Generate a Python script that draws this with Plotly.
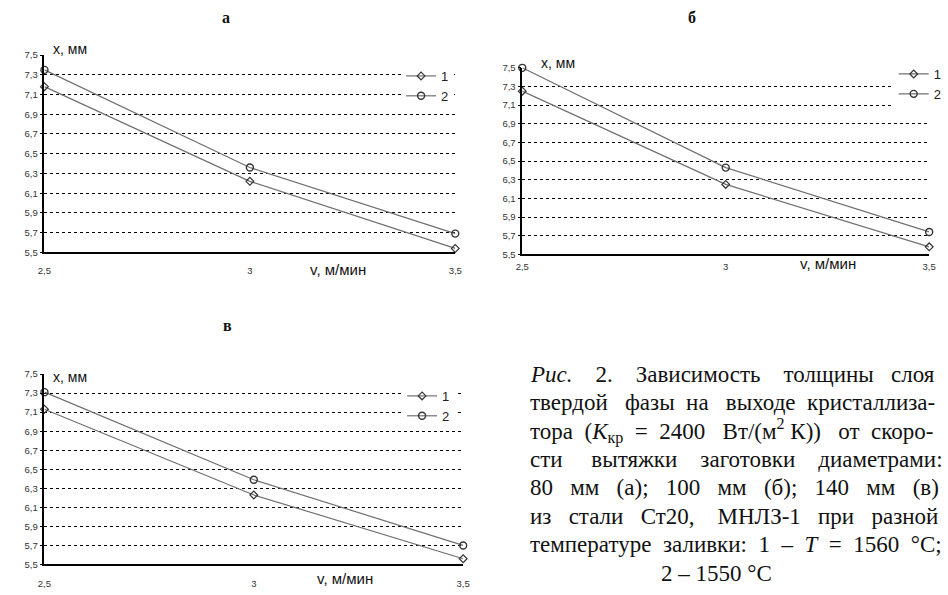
import plotly.graph_objects as go

# ---- data ----
v = [2.5, 3.0, 3.5]
a_T1560 = [7.18, 6.22, 5.54]
a_T1550 = [7.35, 6.36, 5.69]
b_T1560 = [7.25, 6.25, 5.58]
b_T1550 = [7.50, 6.43, 5.74]
c_T1560 = [7.13, 6.23, 5.56]
c_T1550 = [7.31, 6.39, 5.70]
series_names = ["1", "2"]
panel_labels = ["а", "б", "в"]
y_tick_vals = [5.5, 5.7, 5.9, 6.1, 6.3, 6.5, 6.7, 6.9, 7.1, 7.3, 7.5]
y_tick_text = ["5,5", "5,7", "5,9", "6,1", "6,3", "6,5", "6,7", "6,9", "7,1", "7,3", "7,5"]
grid_vals = [5.7, 5.9, 6.1, 6.3, 6.5, 6.7, 6.9, 7.1, 7.3]
x_tick_vals = [2.5, 3.0, 3.5]
x_tick_text = ["2,5", "3", "3,5"]
y_title = "x, мм"
x_title = "v, м/мин"
caption_words = [
    ["<i>Рис.</i>", "2.", "Зависимость", "толщины", "слоя"],
    ["твердой", "фазы", "на", "выходе", "кристаллиза-"],
    ["тора", "(<i>K</i><sub>кр</sub>", "=", "2400", "Вт/(м<sup>2</sup>", "К))", "от", "скоро-"],
    ["сти", "вытяжки", "заготовки", "диаметрами:"],
    ["80", "мм", "(а);", "100", "мм", "(б);", "140", "мм", "(в)"],
    ["из", "стали", "Ст20,", "МНЛЗ-1", "при", "разной"],
    ["температуре", "заливки:", "1", "–", "<i>T</i>", "=", "1560", "°C;"],
]
caption_last = "2 – 1550 °C"

# extra non-breaking spaces per word gap (to imitate justified text)
caption_extra = [
    [3, 3, 3, 2],
    [2, 1, 2, 1],
    [1, 1, 1, 2, 0, 2, 1],
    [4, 3, 3],
    [2, 2, 2, 2, 2, 2, 2, 2],
    [2, 2, 3, 2, 2],
    [1, 1, 1, 1, 1, 1, 1],
]

W, H = 948, 595
def px(x):
    return x / W
def py(y):
    return 1 - y / H

fig = go.Figure()

panels = [
    dict(s1=a_T1560, s2=a_T1550, xa="x", ya="y", lg="legend"),
    dict(s1=b_T1560, s2=b_T1550, xa="x2", ya="y2", lg="legend2"),
    dict(s1=c_T1560, s2=c_T1550, xa="x3", ya="y3", lg="legend3"),
]
line_col = "#707070"
for p in panels:
    fig.add_trace(go.Scatter(
        x=v, y=p["s1"], name=series_names[0], mode="lines+markers",
        line=dict(color=line_col, width=1.2),
        marker=dict(symbol="diamond-open", size=6, color="#333", line=dict(width=1.2)),
        xaxis=p["xa"], yaxis=p["ya"], legend=p["lg"], cliponaxis=False))
    fig.add_trace(go.Scatter(
        x=v, y=p["s2"], name=series_names[1], mode="lines+markers",
        line=dict(color=line_col, width=1.2),
        marker=dict(symbol="circle-open", size=7, color="#333", line=dict(width=1.4)),
        xaxis=p["xa"], yaxis=p["ya"], legend=p["lg"], cliponaxis=False))

tick_font = dict(family="Liberation Sans", size=9.5, color="#333")

def xaxis(domain, standoff):
    return dict(domain=domain, range=[2.5, 3.5], tickvals=x_tick_vals, ticktext=x_tick_text,
                showline=True, linecolor="black", linewidth=1.5, showgrid=False, zeroline=False,
                ticks="", tickfont=tick_font, ticklabelstandoff=standoff, fixedrange=True)

def yaxis(domain, anchor):
    return dict(domain=domain, range=[5.5, 7.5], tickvals=y_tick_vals, ticktext=y_tick_text,
                showline=True, linecolor="black", linewidth=1.5, showgrid=False, zeroline=False,
                ticks="outside", ticklen=3, tickcolor="black", tickfont=tick_font,
                minor=dict(tickvals=grid_vals, showgrid=True, gridcolor="black", gridwidth=1,
                           griddash="3px,3px", ticks=""),
                anchor=anchor, fixedrange=True)

fig.update_layout(
    width=W, height=H, margin=dict(l=0, r=0, t=0, b=0),
    paper_bgcolor="white", plot_bgcolor="white", showlegend=True,
    xaxis=xaxis([px(38), px(455)], 8) | dict(anchor="y"),
    yaxis=yaxis([py(251), py(50)], "x"),
    xaxis2=xaxis([px(523), px(936)], 3) | dict(anchor="y2"),
    yaxis2=yaxis([py(253), py(63)], "x2"),
    xaxis3=xaxis([px(38), px(463)], 9) | dict(anchor="y3"),
    yaxis3=yaxis([py(569), py(375)], "x3"),
)

leg_font = dict(family="Liberation Sans", size=13, color="#222")
for name, x0, y0 in [("legend", 400, 56), ("legend2", 900, 54), ("legend3", 401, 382)]:
    fig.update_layout({name: dict(x=px(x0), y=py(y0), xanchor="left", yanchor="top",
                                  bgcolor="white", borderwidth=0, font=leg_font,
                                  itemwidth=30, tracegroupgap=0)})

ann = []
for lab, x0, y0 in [(panel_labels[0], 222, 12), (panel_labels[1], 695, 12), (panel_labels[2], 224, 326)]:
    ann.append(dict(text="<b>" + lab + "</b>", x=px(x0), y=py(y0), xref="paper", yref="paper",
                    showarrow=False, xanchor="center", yanchor="middle",
                    font=dict(family="Liberation Serif", size=16, color="#111")))
for x0, y0 in [(45, 44), (540, 58), (45, 378)]:
    ann.append(dict(text=y_title, x=px(x0), y=py(y0), xref="paper", yref="paper",
                    showarrow=False, xanchor="left", yanchor="middle",
                    font=dict(family="Liberation Sans", size=14, color="#111")))
for x0, y0 in [(306, 268), (803, 262), (313, 583)]:
    ann.append(dict(text=x_title, x=px(x0), y=py(y0), xref="paper", yref="paper",
                    showarrow=False, xanchor="left", yanchor="middle",
                    font=dict(family="Liberation Sans", size=15, color="#111")))

cap_font = dict(family="Liberation Serif", size=23, color="#111")
NB = "\u00a0"
for i, words in enumerate(caption_words):
    line = words[0]
    for w, extra in zip(words[1:], caption_extra[i]):
        line += (" " + NB * extra if extra >= 0 else "") + w
    ann.append(dict(text=line, x=px(529), y=py(375 + 29 * i), xref="paper", yref="paper",
                    showarrow=False, xanchor="left", yanchor="middle", font=cap_font))
ann.append(dict(text=caption_last, x=px(720), y=py(578), xref="paper", yref="paper",
                showarrow=False, xanchor="center", yanchor="middle", font=cap_font))
fig.update_layout(annotations=ann)

fig.write_html("out.html", config={"displayModeBar": False},
               post_script="document.body.style.margin='0px';document.body.style.padding='0px';")
